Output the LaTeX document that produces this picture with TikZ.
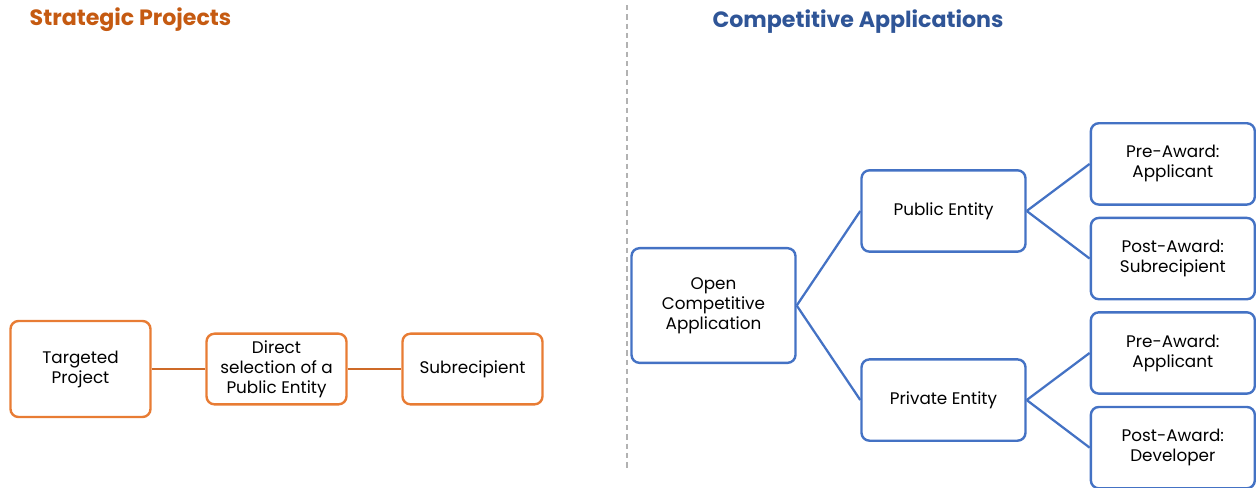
\documentclass[tikz,border=0pt]{standalone}
\usepackage{fontspec}
\setmainfont{Poppins}
\usepackage{tikz}
\usetikzlibrary{positioning}
\definecolor{orng}{RGB}{232,124,52}
\definecolor{orngline}{RGB}{206,106,40}
\definecolor{orngtitle}{RGB}{197,90,17}
\definecolor{blu}{RGB}{68,114,196}
\definecolor{blutitle}{RGB}{47,85,151}
\tikzstyle{sbox} = [rectangle, rounded corners=6pt, minimum width=105pt, minimum height=53pt, align=center, draw=orng, line width=1.8pt, font=\fontsize{12.6}{15}\selectfont]
\tikzstyle{cbox} = [rectangle, rounded corners=6pt, minimum width=123pt, minimum height=61pt, align=center, draw=blu, line width=1.8pt, font=\fontsize{12.6}{15}\selectfont]
\tikzstyle{sline} = [orngline, line width=1.7pt]
\tikzstyle{cline} = [blu, line width=1.7pt]
\tikzstyle{heading} = [anchor=west, font=\fontsize{16.6}{19}\selectfont\bfseries]

\begin{document}
\begin{tikzpicture}[x=0.75pt, y=-0.75pt, node distance=147pt]
  \useasboundingbox (0,0) rectangle (1256,487);

  % strategic side
  \node (st) [heading, text=orngtitle] at (25,20) {Strategic Projects};
  \node (tp) [sbox, minimum height=72pt] at (80.5,369) {Targeted\\Project};
  \node (ds) [sbox, right of=tp] {Direct\\selection of a\\Public Entity};
  \node (sub) [sbox, right of=ds] {Subrecipient};

  \draw [sline] (tp) -- (ds);
  \draw [sline] (ds) -- (sub);

  % divider
  \draw [gray!60, line width=0.8pt, dash pattern=on 4pt off 3pt] (627,5) -- (627,468);

  % competitive side
  \node (ca) [heading, anchor=center, text=blutitle] at (858,22) {Competitive Applications};
  \node (oca) [cbox, minimum height=86pt] at (713.5,305.5) {Open\\Competitive\\Application};
  \node (pub) [cbox, right of=oca, node distance=172.5pt, yshift=70.9pt] {Public Entity};
  \node (prv) [cbox, right of=oca, node distance=172.5pt, yshift=-70.9pt] {Private Entity};
  \node (pre1) [cbox, right of=pub, node distance=172pt, yshift=35.3pt] {Pre-Award:\\Applicant};
  \node (post1) [cbox, right of=pub, node distance=172pt, yshift=-35.7pt] {Post-Award:\\Subrecipient};
  \node (pre2) [cbox, right of=prv, node distance=172pt, yshift=35.3pt] {Pre-Award:\\Applicant};
  \node (post2) [cbox, right of=prv, node distance=172pt, yshift=-35.7pt] {Post-Award:\\Developer};

  \draw [cline] (oca.east) -- (pub.west);
  \draw [cline] (oca.east) -- (prv.west);
  \draw [cline] (pub.east) -- (pre1.west);
  \draw [cline] (pub.east) -- (post1.west);
  \draw [cline] (prv.east) -- (pre2.west);
  \draw [cline] (prv.east) -- (post2.west);
\end{tikzpicture}
\end{document}
